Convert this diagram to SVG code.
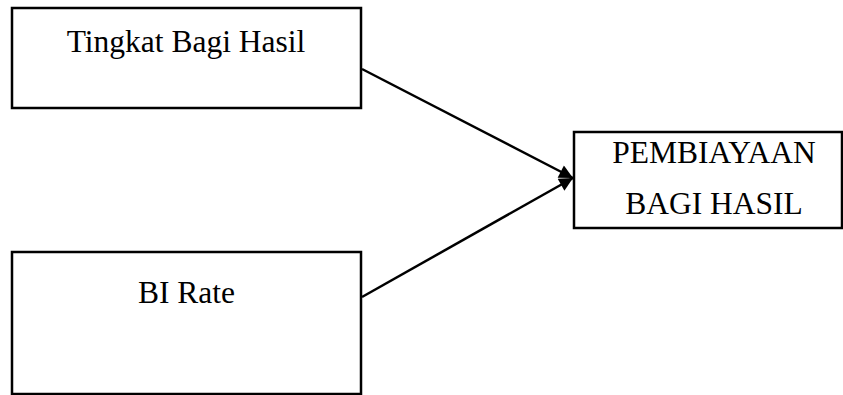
<svg xmlns="http://www.w3.org/2000/svg" width="843" height="395" viewBox="0 0 843 395">
<style>
.box{fill:#fff;stroke:#000;stroke-width:2.5}
.t{font-family:"Liberation Serif","Times New Roman",serif;font-size:31.5px;fill:#000;text-anchor:middle}
.c{stroke:#000;stroke-width:2.5;fill:none}
</style>
<defs>
<marker id="ah" viewBox="0 0 10 10" refX="10" refY="5" markerWidth="6.5" markerHeight="5.5" orient="auto" markerUnits="strokeWidth">
<path d="M0,0 L10,5 L0,10 Z" fill="#000"/>
</marker>
</defs>
<rect width="843" height="395" fill="#fff"/>
<g id="node-tingkat">
<rect class="box" x="12" y="8" width="349" height="100"/>
<text class="t" x="186" y="52">Tingkat Bagi Hasil</text>
</g>
<g id="node-birate">
<rect class="box" x="12" y="252" width="349" height="142"/>
<text class="t" x="186.5" y="303">BI Rate</text>
</g>
<g id="node-pembiayaan">
<rect class="box" x="574" y="132" width="268" height="96"/>
<text class="t" x="714" y="163">PEMBIAYAAN</text>
<text class="t" x="714" y="214">BAGI HASIL</text>
</g>
<g id="connectors">
<line class="c" x1="362" y1="69" x2="573" y2="178" marker-end="url(#ah)"/>
<line class="c" x1="362" y1="297" x2="573" y2="178" marker-end="url(#ah)"/>
</g>
</svg>
